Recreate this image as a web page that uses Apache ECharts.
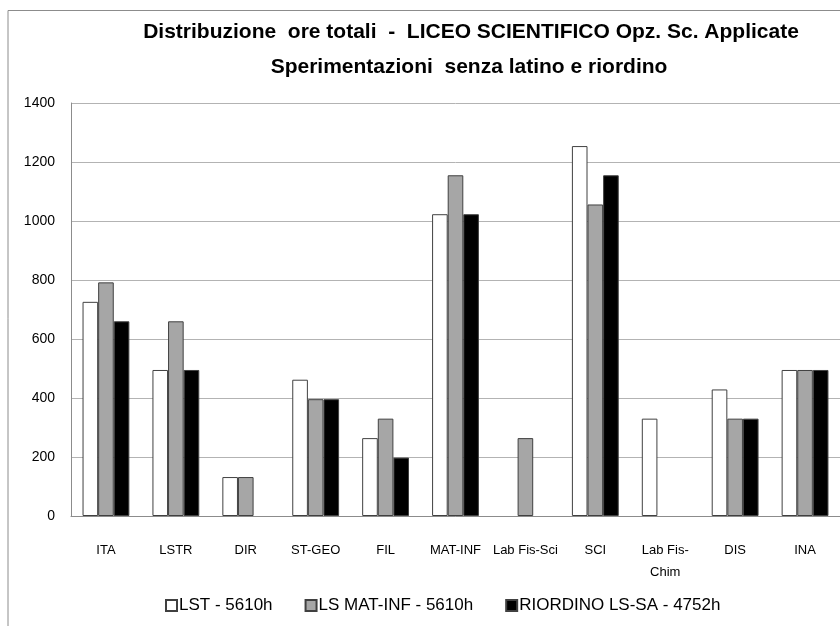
<!DOCTYPE html>
<html>
<head>
<meta charset="utf-8">
<script src="https://cdn.jsdelivr.net/npm/echarts@6/dist/echarts.min.js"></script>
<style>
  html, body { margin: 0; padding: 0; background: #fff; }
  #chart { width: 840px; height: 626px; }
</style>
</head>
<body>
<div id="chart"></div>
<script>
// materie
const categories = ['ITA', 'LSTR', 'DIR', 'ST-GEO', 'FIL', 'MAT-INF', 'Lab Fis-Sci', 'SCI', 'Lab Fis-\nChim', 'DIS', 'INA'];
const seriesNames = ['LST - 5610h', 'LS MAT-INF - 5610h', 'RIORDINO LS-SA - 4752h'];
// ore totali per materia
const lst = [726, 495, 132, 462, 264, 1023, 0, 1254, 330, 429, 495];
const lsMatInf = [792, 660, 132, 396, 330, 1155, 264, 1056, 0, 330, 495];
const riordino = [660, 495, 0, 396, 198, 1023, 0, 1155, 0, 330, 495];
const yTicks = [0, 200, 400, 600, 800, 1000, 1200, 1400];

const font = '"Liberation Sans", Arial, sans-serif';
const fills = ['#ffffff', '#a6a6a6', '#000000'];
const values = [lst, lsMatInf, riordino];

const chart = echarts.init(document.getElementById('chart'));
chart.setOption({
  animation: false,
  textStyle: { fontFamily: font },
  graphic: [
    {
      type: 'polyline',
      shape: { points: [[8, 626], [8, 10.5], [840, 10.5]] },
      style: { stroke: '#8c8c8c', lineWidth: 1, fill: null }
    },
    {
      type: 'text', x: 471, y: 22,
      style: { text: 'Distribuzione  ore totali  -  LICEO SCIENTIFICO Opz. Sc. Applicate', font: 'bold 21px ' + font, fill: '#000', align: 'center' }
    },
    {
      type: 'text', x: 469, y: 57,
      style: { text: 'Sperimentazioni  senza latino e riordino', font: 'bold 21px ' + font, fill: '#000', align: 'center' }
    }
  ],
  legend: {
    left: 160,
    top: 592,
    itemWidth: 11,
    itemHeight: 11,
    itemGap: 32,
    icon: 'rect',
    textStyle: { fontSize: 17, color: '#000', fontFamily: font, padding: [0, 0, 0, -3] },
    data: seriesNames
  },
  grid: { left: 71, right: -1, top: 103, bottom: 110 },
  xAxis: {
    type: 'category',
    data: categories,
    axisLine: { lineStyle: { color: '#8c8c8c' } },
    axisTick: { show: false },
    axisLabel: { interval: 0, fontSize: 13, color: '#000', margin: 23, lineHeight: 22 }
  },
  yAxis: {
    type: 'value',
    min: yTicks[0],
    max: yTicks[yTicks.length - 1],
    interval: 200,
    axisLine: { show: true, lineStyle: { color: '#8c8c8c' } },
    axisTick: { show: false },
    axisLabel: { fontSize: 14, color: '#000', margin: 16, formatter: v => String(v) },
    splitLine: { lineStyle: { color: '#b3b3b3' } }
  },
  series: seriesNames.map((name, i) => ({
    name,
    type: 'bar',
    data: values[i].map(v => (v === 0 ? '-' : v)),
    barGap: '0%',
    barCategoryGap: '33%',
    itemStyle: { color: fills[i], borderColor: '#404040', borderWidth: 1 }
  }))
});
</script>
</body>
</html>
